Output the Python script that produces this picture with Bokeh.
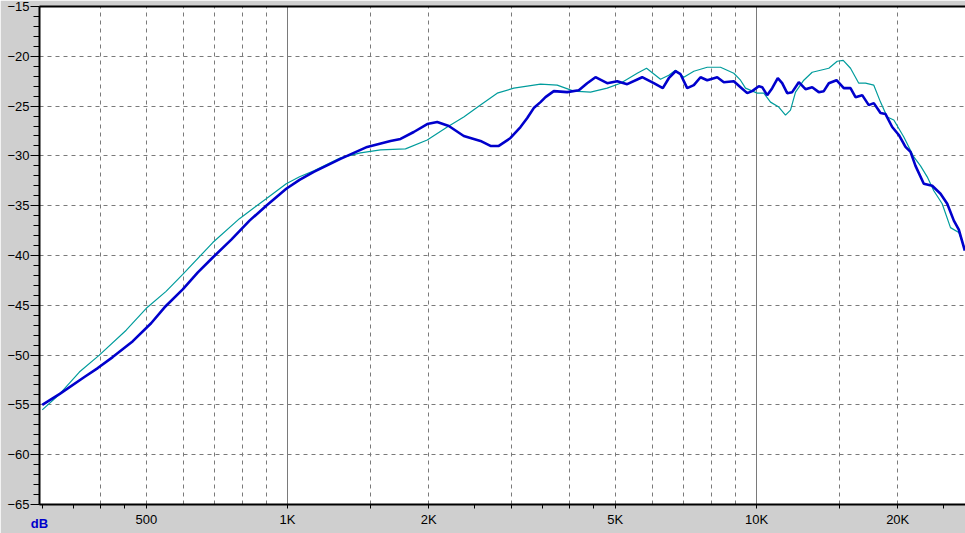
from bokeh.plotting import figure
from bokeh.models import FixedTicker, Grid, Range1d, LogAxis
from bokeh.embed import file_html
from bokeh.resources import INLINE

# ---- data ----
freq_blue = [300, 327, 369, 394, 424, 468, 512, 547, 598, 644, 693, 759, 830, 901, 994,
             1061, 1138, 1297, 1479, 1658, 1742, 1859, 1986, 2086, 2208, 2376, 2579, 2709,
             2822, 2989, 3139, 3245, 3350, 3463, 3549, 3697, 3948, 4180, 4355, 4536, 4805,
             5047, 5301, 5704, 6040, 6313, 6501, 6719, 6887, 7116, 7351, 7597, 7851, 8246,
             8518, 8945, 9245, 9555, 9790, 10113, 10283, 10538, 10801, 11101, 11344, 11627,
             11914, 12307, 12719, 13144, 13576, 13914, 14262, 14811, 15350, 15864, 16259,
             16803, 17354, 17787, 18382, 18840, 19468, 20110, 20782, 21300, 21827, 22735,
             23693, 24681, 25507, 26348, 26999, 27805]
db_blue = [-55.0, -53.9, -52.2, -51.3, -50.2, -48.6, -46.8, -45.2, -43.4, -41.7, -40.2, -38.4,
           -36.5, -35.0, -33.3, -32.4, -31.6, -30.3, -29.1, -28.5, -28.3, -27.6, -26.8, -26.6,
           -27.0, -28.0, -28.5, -29.0, -29.0, -28.2, -27.1, -26.2, -25.2, -24.6, -24.1, -23.5,
           -23.6, -23.4, -22.7, -22.1, -22.7, -22.5, -22.8, -22.1, -22.7, -23.2, -22.2, -21.5,
           -21.8, -23.2, -22.9, -22.1, -22.4, -22.1, -22.6, -22.5, -23.1, -23.7, -23.5, -23.0,
           -23.1, -23.9, -23.2, -22.2, -22.7, -23.7, -23.6, -22.6, -23.3, -23.1, -23.6, -23.5,
           -22.7, -22.4, -23.2, -23.2, -24.1, -23.9, -24.9, -24.7, -25.7, -25.8, -27.1, -27.9,
           -29.1, -29.6, -31.0, -32.8, -33.0, -33.8, -34.8, -36.5, -37.4, -39.5]

freq_teal = [300, 327, 360, 397, 453, 500, 551, 598, 693, 790, 901, 994, 1061, 1138, 1297,
             1431, 1579, 1785, 1986, 2191, 2376, 2579, 2800, 3038, 3463, 3759, 4077, 4427,
             4805, 5129, 5568, 5829, 6242, 6501, 6719, 6998, 7351, 7851, 8380, 8945, 9245,
             9474, 10035, 10366, 10712, 11156, 11530, 11817, 12111, 12614, 13144, 13692,
             14262, 14862, 15306, 15864, 16522, 17076, 17787, 18382, 18998, 19622, 20611,
             21646, 22371, 23120, 23878, 24883, 25918, 26999, 27902]
db_teal = [-55.5, -53.9, -51.7, -50.0, -47.5, -45.3, -43.6, -41.9, -38.7, -36.3, -34.3, -32.8,
           -32.1, -31.5, -30.2, -29.7, -29.4, -29.3, -28.4, -27.1, -26.1, -24.9, -23.7, -23.2,
           -22.8, -22.9, -23.5, -23.6, -23.2, -22.7, -21.7, -21.2, -22.3, -21.9, -21.4, -22.1,
           -21.5, -21.1, -21.1, -21.7, -22.4, -23.2, -23.7, -23.7, -24.6, -25.1, -25.9, -25.4,
           -23.6, -22.4, -21.6, -21.4, -21.2, -20.5, -20.4, -21.2, -22.7, -22.7, -22.9, -24.6,
           -26.1, -26.4, -28.1, -30.1, -31.0, -32.1, -33.5, -34.8, -37.2, -37.7, -39.5]

x_labeled_ticks = [500, 1000, 2000, 5000, 10000, 20000]
x_tick_labels = ["500", "1K", "2K", "5K", "10K", "20K"]
x_minor_ticks = [300, 350, 400, 450, 1500, 2500, 3000, 3500, 4000, 4500, 15000, 25000]
x_grid_dashed = [400, 500, 600, 700, 800, 900, 1500, 2000, 3000, 4000, 5000, 6000, 7000,
                 8000, 9000, 15000, 20000]
x_grid_solid = [1000, 10000]
y_major_ticks = list(range(-65, -14, 5))
y_minor_ticks = list(range(-65, -14, 1))
y_grid_ticks = list(range(-60, -19, 5))
unit_label = "dB"

FONT = "Liberation Sans"
BG = "#cfcfcf"
GRIDC = "#7a7a7a"

p = figure(width=965, height=533, x_axis_type="log",
           x_range=Range1d(296, 27900), y_range=Range1d(-65, -15),
           output_backend="svg", toolbar_location=None,
           min_border_left=39, min_border_right=0, min_border_top=6, min_border_bottom=28)
p.styles = {"margin-left": "0px", "margin-top": "0px"}
p.border_fill_color = BG
p.background_fill_color = "white"
p.outline_line_color = None

# x axis
xa = p.xaxis[0]
xa.ticker = FixedTicker(ticks=x_labeled_ticks, minor_ticks=x_minor_ticks)
xa.major_label_overrides = {t: s for t, s in zip(x_labeled_ticks, x_tick_labels)}
xa.axis_line_width = 2
xa.axis_line_color = "black"
xa.major_tick_in = 0
xa.major_tick_out = 4
xa.minor_tick_in = 0
xa.minor_tick_out = 4
xa.major_tick_line_color = "black"
xa.minor_tick_line_color = "black"
xa.major_label_text_font = FONT
xa.major_label_text_font_size = "13px"
xa.major_label_text_color = "black"
xa.major_label_standoff = 3
# unit label, drawn in the tick-label row at the left end of the axis
xa.axis_label = unit_label
xa.axis_label_align = "start"
xa.axis_label_text_align = "right"
xa.axis_label_standoff = -14
xa.axis_label_text_font = FONT
xa.axis_label_text_font_size = "13px"
xa.axis_label_text_font_style = "bold"
xa.axis_label_text_color = "#0000cc"

# y axis
ya = p.yaxis[0]
ya.ticker = FixedTicker(ticks=y_major_ticks, minor_ticks=y_minor_ticks)
ya.axis_line_width = 2
ya.axis_line_color = "black"
ya.major_tick_in = 0
ya.major_tick_out = 9
ya.minor_tick_in = 0
ya.minor_tick_out = 6
ya.major_tick_line_color = "black"
ya.minor_tick_line_color = "black"
ya.major_label_text_font = FONT
ya.major_label_text_font_size = "13px"
ya.major_label_text_color = "black"
ya.major_label_standoff = 1

# top border line
top = LogAxis(ticker=FixedTicker(ticks=[]), axis_line_width=2, axis_line_color="black",
              major_tick_line_color=None, minor_tick_line_color=None,
              major_label_text_font_size="0px")
p.add_layout(top, "above")

# grids
p.xgrid.ticker = FixedTicker(ticks=x_grid_dashed)
p.xgrid.grid_line_color = GRIDC
p.xgrid.grid_line_dash = "4 4"
p.ygrid.ticker = FixedTicker(ticks=y_grid_ticks)
p.ygrid.grid_line_color = GRIDC
p.ygrid.grid_line_dash = "4 4"
solid_grid = Grid(dimension=0, ticker=FixedTicker(ticks=x_grid_solid),
                  grid_line_color=GRIDC, grid_line_width=1)
p.add_layout(solid_grid, "center")

# curves
p.line(freq_teal, db_teal, line_color="#009c9c", line_width=1.2)
p.line(freq_blue, db_blue, line_color="#0000cc", line_width=2.6)

open("out.html", "w").write(file_html(p, INLINE))
